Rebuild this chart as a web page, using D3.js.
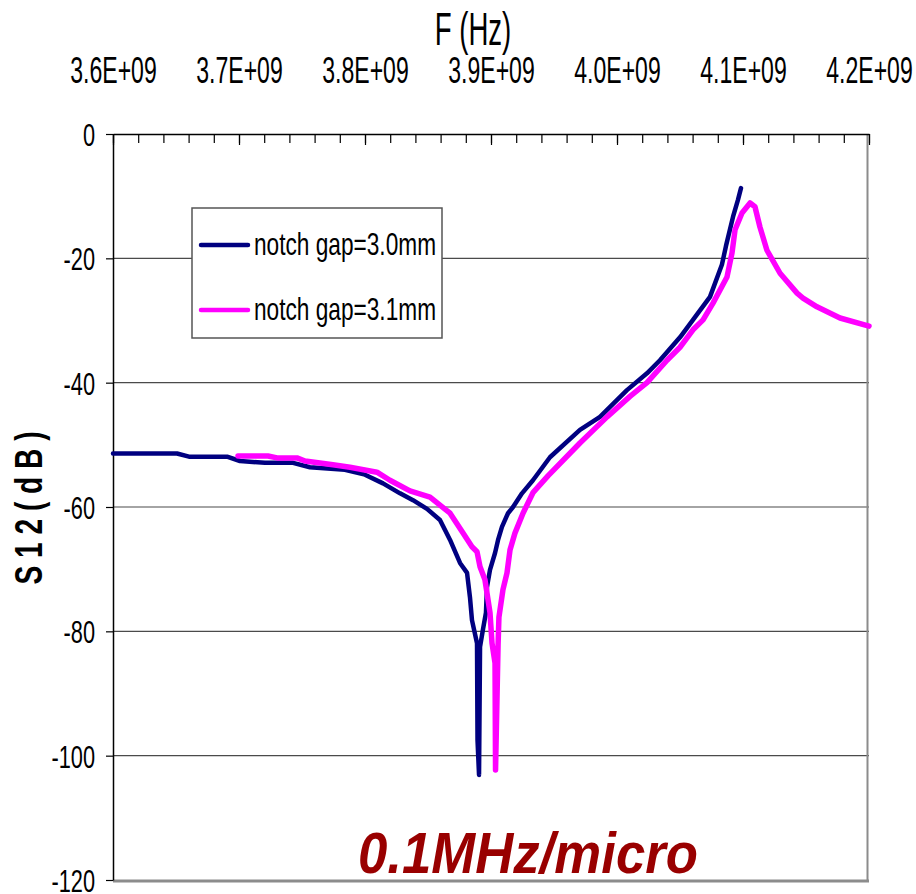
<!DOCTYPE html>
<html><head><meta charset="utf-8">
<script src="https://cdn.jsdelivr.net/npm/d3@7"></script>
<style>body{margin:0;background:#fff}svg{display:block}text{font-family:"Liberation Sans",Arial,sans-serif}</style>
</head><body><div id="chart"></div>
<script>
// Frequency in GHz (axis shows value E+09), S12 in dB
const xTicks = [3.6, 3.7, 3.8, 3.9, 4.0, 4.1, 4.2];
const xTickLabels = ["3.6E+09","3.7E+09","3.8E+09","3.9E+09","4.0E+09","4.1E+09","4.2E+09"];
const yTicks = [0, -20, -40, -60, -80, -100, -120];
const seriesNames = ["notch gap=3.0mm", "notch gap=3.1mm"];

const freq30 = [3.600,3.6508,3.6603,3.6905,3.7008,3.7206,3.7429,3.7563,3.7841,3.8000,3.8143,3.8278,3.8381,3.8492,3.8595,3.8675,3.8754,3.8810,3.8833,3.8849,3.8889,3.8893,3.8905,3.8913,3.8937,3.8960,3.8968,3.8992,3.9032,3.9056,3.9087,3.9135,3.9175,3.9246,3.9333,3.9468,3.9706,3.9865,4.0079,4.0238,4.0341,4.0500,4.0603,4.0738,4.0833,4.0865,4.0921,4.0960,4.0984];
const s12_30 = [-51.4,-51.4,-51.9,-51.9,-52.6,-52.9,-52.9,-53.6,-54.0,-54.8,-56.2,-57.8,-58.9,-60.3,-62.1,-65.3,-69.0,-70.6,-74.5,-78.2,-81.9,-97.5,-103.1,-82.5,-79.6,-77.0,-72.9,-70.1,-67.4,-65.3,-63.2,-61.0,-60.0,-57.8,-55.7,-52.0,-47.6,-45.5,-41.2,-38.5,-36.4,-32.7,-29.9,-26.2,-21.0,-18.0,-13.3,-10.6,-8.7];

const freq31 = [3.6992,3.7230,3.7302,3.7460,3.7524,3.7746,3.7881,3.8095,3.8198,3.8357,3.8516,3.8675,3.8778,3.8849,3.8889,3.8913,3.8952,3.8992,3.9008,3.9032,3.9036,3.9056,3.9063,3.9095,3.9127,3.9151,3.9190,3.9254,3.9333,3.9452,3.9706,3.9921,4.0103,4.0238,4.0397,4.0500,4.0603,4.0683,4.0762,4.0873,4.0913,4.0937,4.0992,4.1056,4.1095,4.1135,4.1190,4.1294,4.1429,4.1476,4.1587,4.1770,4.2000];
const s12_31 = [-51.8,-51.8,-52.1,-52.1,-52.6,-53.2,-53.6,-54.4,-55.7,-57.4,-58.4,-61.0,-64.2,-66.4,-67.2,-69.6,-71.7,-77.0,-81.9,-85.1,-102.3,-82.3,-77.7,-73.3,-70.6,-66.9,-64.2,-61.0,-57.7,-55.0,-49.7,-45.5,-42.2,-40.0,-36.4,-34.3,-31.5,-29.9,-27.2,-23.0,-19.1,-15.4,-12.7,-11.1,-11.7,-15.0,-18.7,-22.4,-25.6,-26.4,-27.8,-29.6,-30.9];

const annotation = "0.1MHz/micro";

const W = 916, H = 894;
const svg = d3.select("#chart").append("svg").attr("width", W).attr("height", H);
const x = d3.scaleLinear().domain([3.6, 4.2]).range([113, 869]);
const y = d3.scaleLinear().domain([-120, 0]).range([880, 134]);

// gridlines
svg.append("g").selectAll("line").data(yTicks.filter(d => d < 0 && d > -120)).join("line")
  .attr("x1", x(3.6)).attr("x2", x(4.2)).attr("y1", d => y(d)).attr("y2", d => y(d))
  .attr("stroke", "#4a4a4a").attr("stroke-width", 1.2);

// plot border right & bottom (gray)
svg.append("line").attr("x1", 867.5).attr("x2", 867.5).attr("y1", 134).attr("y2", 881)
  .attr("stroke", "#8c8c8c").attr("stroke-width", 2);
svg.append("line").attr("x1", 113).attr("x2", 869).attr("y1", 881).attr("y2", 881)
  .attr("stroke", "#8c8c8c").attr("stroke-width", 3);

// left axis
const yAxis = svg.append("g").attr("transform", "translate(113,0)")
  .call(d3.axisLeft(y).tickValues(yTicks).tickSize(7).tickSizeOuter(0).tickFormat(d3.format("d")));
yAxis.select(".domain").attr("stroke", "#000").attr("stroke-width", 1.5);
yAxis.selectAll(".tick line").attr("stroke", "#000").attr("stroke-width", 1.2);
yAxis.selectAll(".tick text").attr("font-size", 32).attr("fill", "#000")
  .attr("font-family", '"Liberation Sans",Arial,sans-serif')
  .attr("x", -18 / 0.68).attr("dy", "0.36em").attr("transform", "scale(0.68,1)")
  .text(d => d === 0 ? "0" : String(d));

// top axis: minor ticks
const xMinor = d3.range(0, 31).map(i => 3.6 + i * 0.02);
const topMinor = svg.append("g").attr("transform", "translate(0,134)")
  .call(d3.axisTop(x).tickValues(xMinor).tickSize(-9).tickSizeOuter(0).tickFormat(""));
topMinor.select(".domain").remove();
topMinor.selectAll(".tick line").attr("stroke", "#000").attr("stroke-width", 1.2);

const topAxis = svg.append("g").attr("transform", "translate(0,134)")
  .call(d3.axisTop(x).tickValues(xTicks).tickSize(-11).tickSizeOuter(0)
    .tickFormat((d, i) => xTickLabels[i]));
topAxis.select(".domain").attr("stroke", "#000").attr("stroke-width", 1.5);
topAxis.selectAll(".tick line").attr("stroke", "#000").attr("stroke-width", 1.2);
topAxis.selectAll(".tick text").attr("font-size", 36).attr("fill", "#000")
  .attr("font-family", '"Liberation Sans",Arial,sans-serif')
  .attr("y", -51).attr("dy", 0).attr("text-anchor", "middle").attr("transform", "scale(0.64,1)");

// axis titles
svg.append("text").attr("transform", "translate(473,45) scale(0.6,1)")
  .attr("text-anchor", "middle").attr("font-size", 46).attr("fill", "#000").text("F (Hz)");
svg.append("text").attr("transform", "translate(42,508) rotate(-90)")
  .attr("text-anchor", "middle").attr("font-size", 38).attr("font-weight", "bold")
  .attr("textLength", 153).attr("lengthAdjust", "spacingAndGlyphs").attr("fill", "#000")
  .text("S 1 2  ( d B )");

// series
const line = d3.line().x(d => x(d[0])).y(d => y(d[1]));
const d30 = freq30.map((f, i) => [f, s12_30[i]]);
const d31 = freq31.map((f, i) => [f, s12_31[i]]);
svg.append("path").datum(d30).attr("d", line).attr("fill", "none")
  .attr("stroke", "#000080").attr("stroke-width", 4.5).attr("stroke-linejoin", "round").attr("stroke-linecap", "round");
svg.append("path").datum(d31).attr("d", line).attr("fill", "none")
  .attr("stroke", "#ff00ff").attr("stroke-width", 5.5).attr("stroke-linejoin", "round").attr("stroke-linecap", "round");

// legend
const lg = svg.append("g");
lg.append("rect").attr("x", 192).attr("y", 208).attr("width", 250).attr("height", 130)
  .attr("fill", "#fff").attr("stroke", "#555").attr("stroke-width", 1.5);
const colors = ["#000080", "#ff00ff"];
seriesNames.forEach((n, i) => {
  const cy = 245 + i * 65;
  lg.append("line").attr("x1", 201).attr("x2", 248).attr("y1", cy).attr("y2", cy)
    .attr("stroke", colors[i]).attr("stroke-width", 4.5).attr("stroke-linecap", "round");
  lg.append("text").attr("x", 254).attr("y", cy + 10).attr("font-size", 32).attr("fill", "#000")
    .attr("textLength", 182).attr("lengthAdjust", "spacingAndGlyphs").text(n);
});

// annotation
svg.append("text").attr("x", 358).attr("y", 873).attr("font-size", 58)
  .attr("font-weight", "bold").attr("font-style", "italic").attr("fill", "#990000")
  .attr("textLength", 340).attr("lengthAdjust", "spacingAndGlyphs").text(annotation);
</script></body></html>
